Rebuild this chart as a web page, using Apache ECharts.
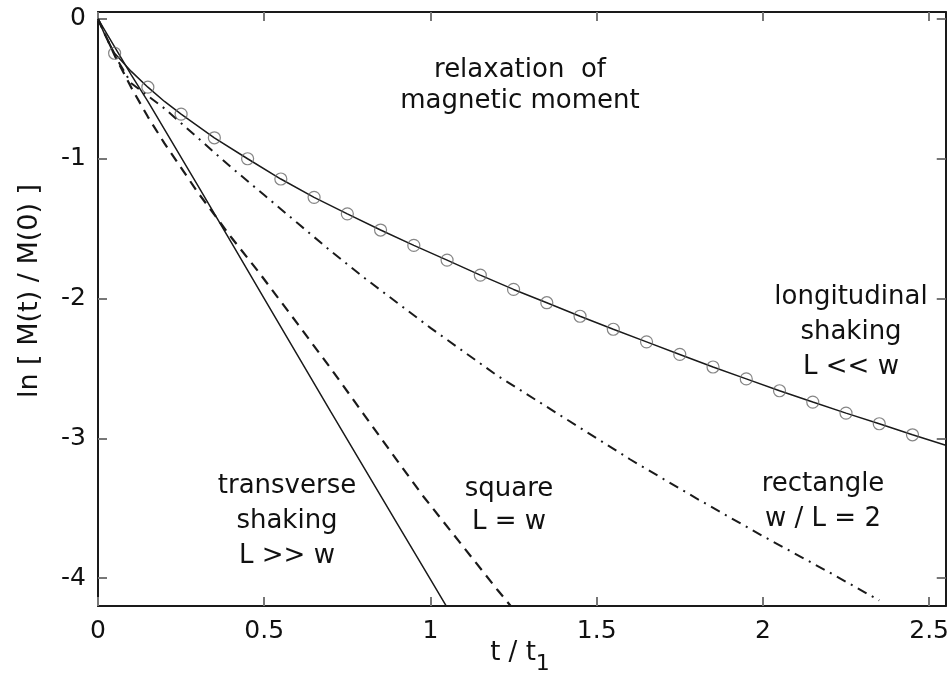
<!DOCTYPE html>
<html>
<head>
<meta charset="utf-8">
<script src="https://cdn.jsdelivr.net/npm/echarts@6/dist/echarts.min.js"></script>
<style>html,body{margin:0;padding:0;background:#fff}#c{width:952px;height:679px}</style>
</head>
<body>
<div id="c"></div>
<script>
// ---- data ----
const xTicks = [0, 0.5, 1, 1.5, 2, 2.5];
const yTicks = [0, -1, -2, -3, -4];

// measured points (circles), longitudinal shaking L << w
const circT = [0.05,0.15,0.25,0.35,0.45,0.55,0.65,0.75,0.85,0.95,1.05,1.15,1.25,1.35,1.45,1.55,1.65,1.75,1.85,1.95,2.05,2.15,2.25,2.35,2.45];
const circY = [-0.245,-0.488,-0.681,-0.85,-1.0,-1.145,-1.276,-1.394,-1.51,-1.62,-1.725,-1.833,-1.935,-2.03,-2.127,-2.22,-2.31,-2.40,-2.49,-2.575,-2.66,-2.741,-2.82,-2.896,-2.975];

// theory curve, longitudinal
const longT = [0,0.02,0.05,0.1,0.15,0.2,0.25,0.35,0.45,0.55,0.65,0.75,0.85,0.95,1.05,1.15,1.25,1.35,1.45,1.55,1.65,1.75,1.85,1.95,2.05,2.15,2.25,2.35,2.45,2.55];
const longY = [0,-0.11,-0.245,-0.375,-0.488,-0.59,-0.681,-0.85,-1.0,-1.145,-1.276,-1.394,-1.51,-1.62,-1.725,-1.833,-1.935,-2.03,-2.127,-2.22,-2.31,-2.40,-2.49,-2.575,-2.66,-2.741,-2.82,-2.896,-2.975,-3.05];

// transverse shaking L >> w
const transT = [0,0.05,0.1,0.15,0.2,0.3,0.4,0.5,0.6,0.7,0.8,0.9,1.0,1.05];
const transY = [0,-0.2,-0.40,-0.59,-0.79,-1.19,-1.595,-2.0,-2.405,-2.81,-3.21,-3.61,-4.01,-4.21];

// square L = w
const sqT = [0,0.05,0.1,0.15,0.2,0.3,0.4,0.48,0.6,0.7,0.8,0.9,0.98,1.1,1.2,1.245];
const sqY = [0,-0.26,-0.49,-0.70,-0.89,-1.24,-1.56,-1.80,-2.18,-2.50,-2.83,-3.16,-3.42,-3.78,-4.08,-4.21];

// rectangle w / L = 2
const recT = [0,0.05,0.1,0.2,0.3,0.4,0.5,0.6,0.7,0.8,0.9,1.0,1.1,1.2,1.4,1.6,1.8,2.0,2.2,2.35];
const recY = [0,-0.26,-0.46,-0.64,-0.85,-1.06,-1.26,-1.46,-1.66,-1.85,-2.03,-2.21,-2.38,-2.55,-2.85,-3.15,-3.43,-3.70,-3.96,-4.16];

const zip = (a, b) => a.map((v, i) => [v, b[i]]);

const FONT = 'DejaVu Sans';
const chart = echarts.init(document.getElementById('c'), null, {renderer: 'canvas'});

const axisLine = {show: true, onZero: false, lineStyle: {color: '#1a1a1a', width: 2}};
const tickStyle = {inside: true, length: 9, lineStyle: {color: '#777', width: 2}};

const option = {
  backgroundColor: '#fff',
  animation: false,
  grid: {left: 98, right: 6, top: 12, bottom: 73, containLabel: false},
  xAxis: [
    {type: 'value', min: 0, max: 2.55, position: 'bottom',
     axisLine: axisLine, splitLine: {show: false},
     axisTick: Object.assign({customValues: xTicks}, tickStyle),
     axisLabel: {customValues: xTicks, margin: 13, color: '#111', fontFamily: FONT, fontSize: 25,
                 formatter: v => String(v)}},
    {type: 'value', min: 0, max: 2.55, position: 'top',
     axisLine: axisLine, splitLine: {show: false},
     axisTick: Object.assign({customValues: xTicks}, tickStyle),
     axisLabel: {show: false}}
  ],
  yAxis: [
    {type: 'value', min: -4.2, max: 0.05, position: 'left',
     axisLine: axisLine, splitLine: {show: false},
     axisTick: Object.assign({customValues: yTicks}, tickStyle),
     axisLabel: {customValues: yTicks, margin: 12, color: '#111', fontFamily: FONT, fontSize: 25,
                 formatter: v => String(v)}},
    {type: 'value', min: -4.2, max: 0.05, position: 'right',
     axisLine: axisLine, splitLine: {show: false},
     axisTick: Object.assign({customValues: yTicks}, tickStyle),
     axisLabel: {show: false}}
  ],
  series: [
    {name: 'transverse', type: 'line', data: zip(transT, transY), showSymbol: false, smooth: false,
     lineStyle: {color: '#1a1a1a', width: 1.5, type: 'solid'}},
    {name: 'square', type: 'line', data: zip(sqT, sqY), showSymbol: false, smooth: false,
     lineStyle: {color: '#1a1a1a', width: 2.2, type: [10, 7]}},
    {name: 'rectangle', type: 'line', data: zip(recT, recY), showSymbol: false, smooth: false,
     lineStyle: {color: '#1a1a1a', width: 2, type: [10, 6, 2, 6]}},
    {name: 'longitudinal', type: 'line', data: zip(longT, longY), showSymbol: false, smooth: false,
     lineStyle: {color: '#1a1a1a', width: 1.5}},
    {name: 'measured', type: 'scatter', data: zip(circT, circY), symbol: 'circle', symbolSize: 12,
     itemStyle: {color: 'rgba(255,255,255,0)', borderColor: '#666', borderWidth: 1.2}, z: 5}
  ],
  graphic: [
    {type: 'text', x: 30, y: 291, rotation: Math.PI / 2,
     style: {text: 'ln [ M(t) / M(0) ]', fill: '#111', font: '27px "DejaVu Sans"', align: 'center', verticalAlign: 'middle'}},
    {type: 'text', x: 520, y: 653,
     style: {text: 't / t{s|1}', fill: '#111', font: '26px "DejaVu Sans"', align: 'center', verticalAlign: 'middle',
             rich: {s: {fontFamily: FONT, fontSize: 22, padding: [22, 0, 0, 0], fill: '#111'}}}},
    {type: 'text', x: 520, y: 86,
     style: {text: 'relaxation  of\nmagnetic moment', fill: '#111', font: '26px "DejaVu Sans"', align: 'center', verticalAlign: 'middle', lineHeight: 31}},
    {type: 'text', x: 851, y: 332,
     style: {text: 'longitudinal\nshaking\nL << w', fill: '#111', font: '26px "DejaVu Sans"', align: 'center', verticalAlign: 'middle', lineHeight: 35}},
    {type: 'text', x: 287, y: 521,
     style: {text: 'transverse\nshaking\nL >> w', fill: '#111', font: '26px "DejaVu Sans"', align: 'center', verticalAlign: 'middle', lineHeight: 35}},
    {type: 'text', x: 509, y: 506,
     style: {text: 'square\nL = w', fill: '#111', font: '26px "DejaVu Sans"', align: 'center', verticalAlign: 'middle', lineHeight: 33}},
    {type: 'text', x: 823, y: 502,
     style: {text: 'rectangle\nw / L = 2', fill: '#111', font: '26px "DejaVu Sans"', align: 'center', verticalAlign: 'middle', lineHeight: 35}}
  ]
};
chart.setOption(option);
</script>
</body>
</html>
